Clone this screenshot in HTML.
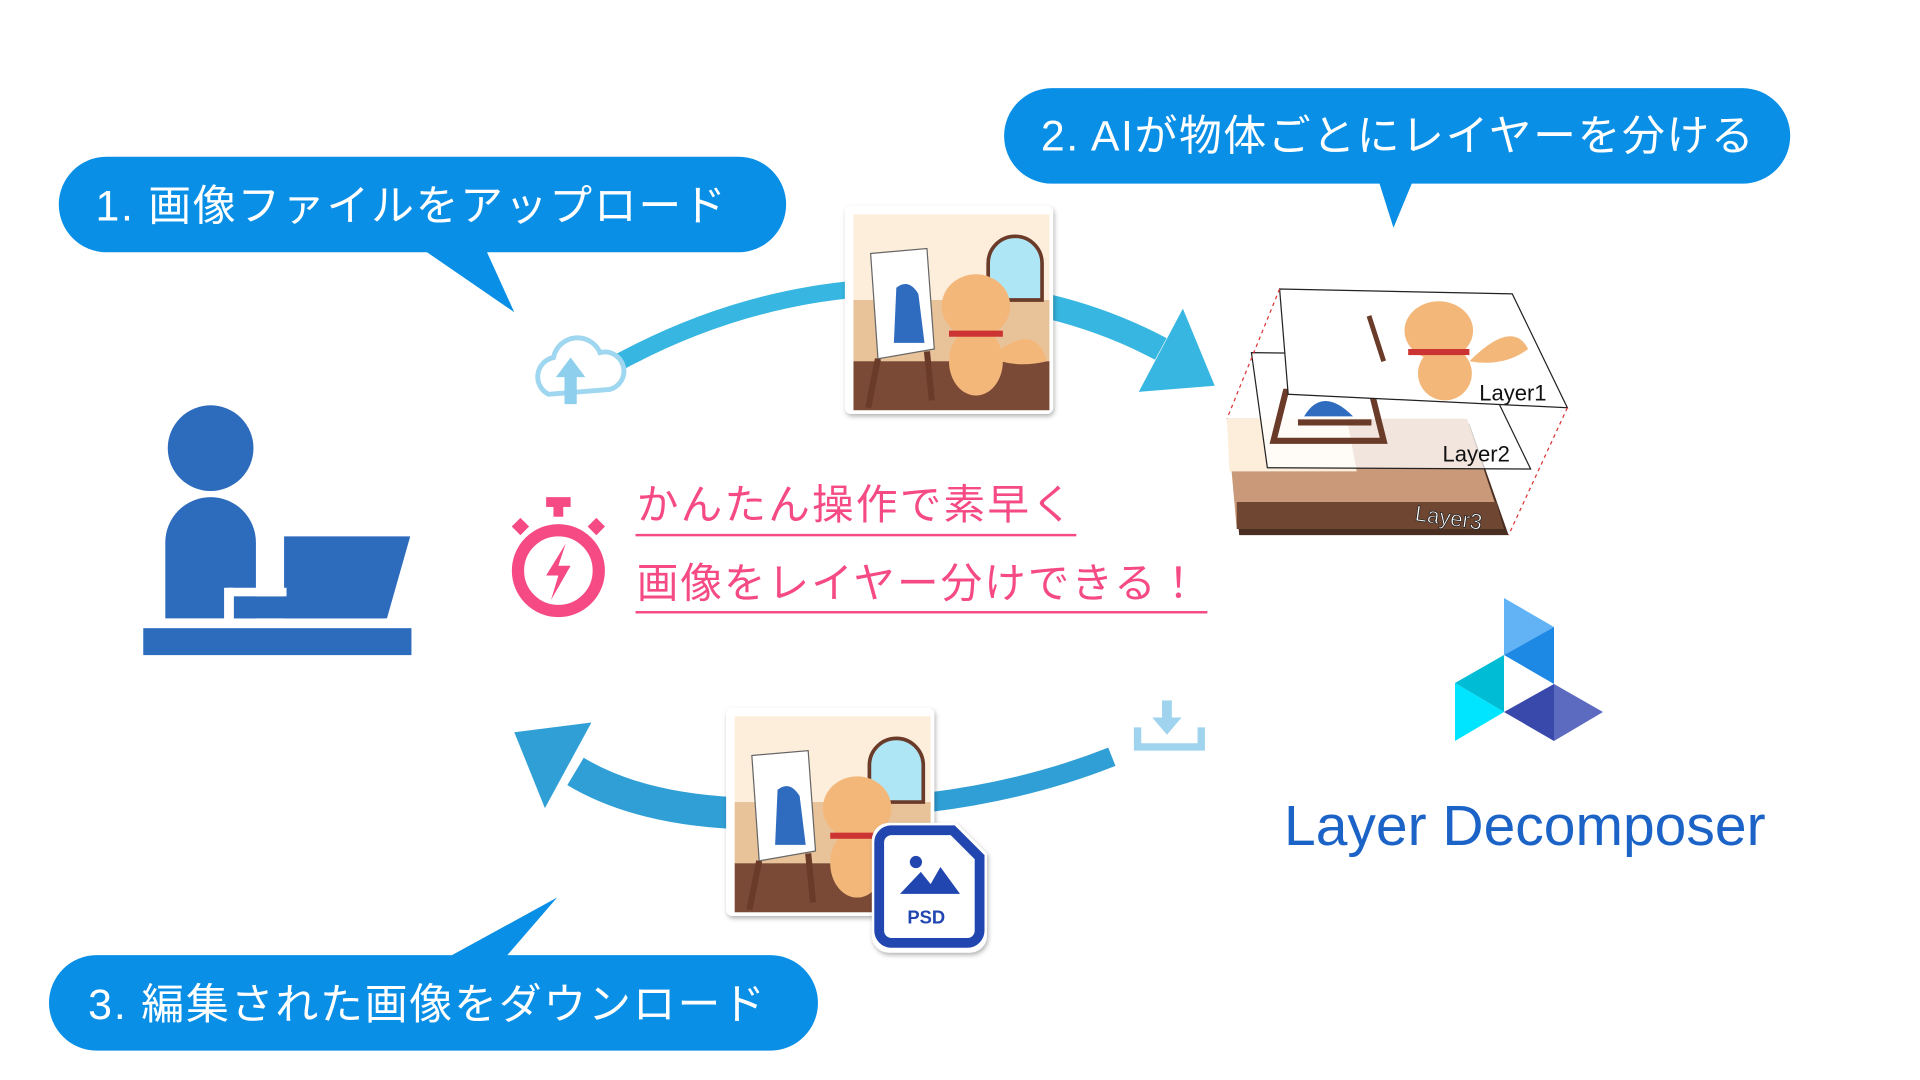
<!DOCTYPE html>
<html><head><meta charset="utf-8"><style>
html,body{margin:0;padding:0;background:#fff;width:1920px;height:1080px;overflow:hidden}
svg{display:block}
text{font-family:"Liberation Sans","Noto Sans CJK JP",sans-serif}
</style></head><body>
<svg width="1920" height="1080" viewBox="0 0 1920 1080" xmlns="http://www.w3.org/2000/svg">
<defs>
<filter id="sh" x="-10%" y="-10%" width="130%" height="130%"><feDropShadow dx="1" dy="2" stdDeviation="2" flood-opacity="0.3"/></filter>
<g id="pic">
 <rect x="0" y="0" width="160" height="160" fill="#fdeedb"/>
 <rect x="0" y="70" width="160" height="50" fill="#e8c39a"/>
 <rect x="0" y="120" width="160" height="40" fill="#7a4a36"/>
 <path d="M110 70 v-30 a22 22 0 0 1 44 0 v30z" fill="#aee6f5" stroke="#6b3b2a" stroke-width="3"/>
 <polygon points="14,32 60,28 66,110 20,118" fill="#fff" stroke="#666"/>
 <path d="M35 60 q10 -8 18 5 l5 40 h-25z" fill="#2f6cc0"/>
 <path d="M20 118 l-8 40 M60 112 l4 40" stroke="#6b3b2a" stroke-width="5"/>
 <ellipse cx="100" cy="75" rx="28" ry="26" fill="#f4b77a"/>
 <ellipse cx="100" cy="120" rx="22" ry="28" fill="#f4b77a"/>
 <path d="M120 110 q30 -20 38 10 q-20 5 -38 0z" fill="#f4b77a"/>
 <rect x="78" y="95" width="44" height="5" fill="#c33"/>
</g>
</defs>

<g transform="scale(1.2245)">
 <rect x="48" y="128" width="594" height="78" rx="39" fill="#0a8fe6"/>
 <polygon points="340,200 395,200 420,255" fill="#0a8fe6"/>
 <text x="78" y="180" font-size="35" fill="#fff" letter-spacing="1.4">1. 画像ファイルをアップロード</text>

 <rect x="820" y="72" width="642" height="78" rx="39" fill="#0a8fe6"/>
 <polygon points="1125,145 1155,145 1138,186" fill="#0a8fe6"/>
 <text x="850" y="123" font-size="35" fill="#fff" letter-spacing="1.3">2. AIが物体ごとにレイヤーを分ける</text>

 <rect x="40" y="780" width="628" height="78" rx="39" fill="#0a8fe6"/>
 <polygon points="360,785 410,785 455,733" fill="#0a8fe6"/>
 <text x="72" y="832" font-size="35" fill="#fff" letter-spacing="1.5">3. 編集された画像をダウンロード</text>

 <path d="M507 295 Q600 245 700 236" fill="none" stroke="#36b6e0" stroke-width="14"/>
 <path d="M855 250 Q905 262 948 285" fill="none" stroke="#36b6e0" stroke-width="20"/>
 <polygon points="966,252 992,315 930,320" fill="#36b6e0"/>

 <path d="M908 618 Q840 645 760 655" fill="none" stroke="#2f9fd6" stroke-width="16"/>
 <path d="M600 664 Q520 660 470 630" fill="none" stroke="#2f9fd6" stroke-width="26"/>
 <polygon points="420,598 483,590 445,660" fill="#2f9fd6"/>

 <path d="M448 322 a16 16 0 0 1 4 -30 a20 20 0 0 1 38 -4 a15 15 0 0 1 8 30z" fill="none" stroke="#9fd6f0" stroke-width="4"/>
 <polygon points="466,292 478,308 471,308 471,330 461,330 461,308 454,308" fill="#8ecfee"/>

 <rect x="949" y="572" width="8" height="16" fill="#9fd3ee"/>
 <polygon points="941,586 965,586 953,600" fill="#9fd3ee"/>
 <path d="M929 594 v16 h52 v-16" fill="none" stroke="#9fd3ee" stroke-width="6"/>

 <g fill="#2d6bbd">
  <circle cx="172" cy="366" r="35"/>
  <path d="M135 505 v-62 a37 37 0 0 1 74 0 v62z"/>
  <polygon points="232,438 335,438 316,505 232,505"/>
  <rect x="186" y="487" width="128" height="18"/>
  <rect x="117" y="513" width="219" height="22"/>
 </g>
 <rect x="183" y="480" width="8" height="30" fill="#fff"/>
 <rect x="186" y="480" width="48" height="7" fill="#fff"/>

 <g fill="#f54a84">
  <rect x="446" y="406" width="20" height="8"/>
  <rect x="452" y="412" width="8" height="10"/>
  <rect x="420" y="425" width="10" height="10" transform="rotate(45 425 430)"/>
  <rect x="482" y="425" width="10" height="10" transform="rotate(45 487 430)"/>
 </g>
 <circle cx="456" cy="466" r="33" fill="none" stroke="#f54a84" stroke-width="10"/>
 <polygon points="462,444 446,470 456,470 450,490 466,462 456,462" fill="#f54a84"/>

 <text x="520" y="424" font-size="34" fill="#f54a84" letter-spacing="1.8">かんたん操作で素早く</text>
 <rect x="519" y="436" width="360" height="2" fill="#f54a84"/>
 <text x="520" y="488" font-size="34" fill="#f54a84" letter-spacing="1.6">画像をレイヤー分けできる！</text>
 <rect x="519" y="499" width="467" height="2" fill="#f54a84"/>

 <rect x="690" y="168" width="170" height="170" rx="5" fill="#fff" filter="url(#sh)"/>
 <use href="#pic" transform="translate(697,175)"/>

 <rect x="593" y="578" width="170" height="170" rx="5" fill="#fff" filter="url(#sh)"/>
 <use href="#pic" transform="translate(600,585)"/>
 <path d="M712 686 a14 14 0 0 1 14 -14 h55 l25 25 v67 a14 14 0 0 1 -14 14 h-66 a14 14 0 0 1 -14 -14z" fill="#fff" filter="url(#sh)"/>
 <path d="M718 688 a10 10 0 0 1 10 -10 h50 l22 22 v60 a10 10 0 0 1 -10 10 h-62 a10 10 0 0 1 -10 -10z" fill="#fff" stroke="#2146b0" stroke-width="8"/>
 <circle cx="748" cy="704" r="5" fill="#2146b0"/>
 <polygon points="735,730 752,712 760,722 768,708 784,730" fill="#2146b0"/>
 <text x="741" y="754" font-size="15" font-weight="bold" fill="#2146b0">PSD</text>

 <polygon points="1004,346 1200,346 1232,437 1012,437" fill="#4a2e22"/>
 <polygon points="1002,342 1198,342 1228,432 1010,432" fill="#c9997a"/>
 <polygon points="1002,342 1100,342 1108,385 1004,385" fill="#fdeedb"/>
 <polygon points="1010,410 1222,410 1228,432 1010,432" fill="#6e4632"/>
 <text x="1155" y="425" font-size="18" fill="#fff" stroke="#222" stroke-width="0.6" transform="rotate(8 1155 425)">Layer3</text>
 <polygon points="1022,288 1205,290 1250,383 1035,382" fill="#fff" fill-opacity="0.75" stroke="#222"/>
 <path d="M1040 360 l10 -40 h70 l10 40z M1060 345 h60" stroke="#6b3b2a" stroke-width="5" fill="none"/>
 <path d="M1065 340 q15 -25 40 0z" fill="#2f6cc0"/>
 <text x="1178" y="377" font-size="18" fill="#111">Layer2</text>
 <polygon points="1045,236 1235,240 1280,333 1052,322" fill="#fff" stroke="#222"/>
 <ellipse cx="1175" cy="270" rx="28" ry="24" fill="#f4b77a"/>
 <ellipse cx="1180" cy="305" rx="22" ry="22" fill="#f4b77a"/>
 <path d="M1200 295 q35 -35 48 -10 q-20 15 -48 10z" fill="#f4b77a"/>
 <rect x="1150" y="285" width="50" height="5" fill="#c33"/>
 <line x1="1130" y1="295" x2="1118" y2="258" stroke="#6b3b2a" stroke-width="4"/>
 <text x="1208" y="327" font-size="18" fill="#111">Layer1</text>
 <g stroke="#d33" stroke-dasharray="3,3" fill="none" stroke-width="1">
  <line x1="1045" y1="236" x2="1002" y2="342"/>
  <line x1="1280" y1="333" x2="1232" y2="437"/>
 </g>
</g>

<polygon points="1504,598 1554,627 1504,655" fill="#62b3f5"/>
<polygon points="1504,655 1554,627 1554,684" fill="#1e88e5"/>
<polygon points="1455,683 1504,655 1504,712" fill="#00bcd4"/>
<polygon points="1455,683 1504,712 1455,741" fill="#00e5ff"/>
<polygon points="1504,712 1554,684 1554,741" fill="#3949ab"/>
<polygon points="1554,684 1603,712 1554,741" fill="#5c6bc0"/>
<text x="1284" y="845" font-size="57" fill="#1b63c6">Layer Decomposer</text>
</svg>
</body></html>
